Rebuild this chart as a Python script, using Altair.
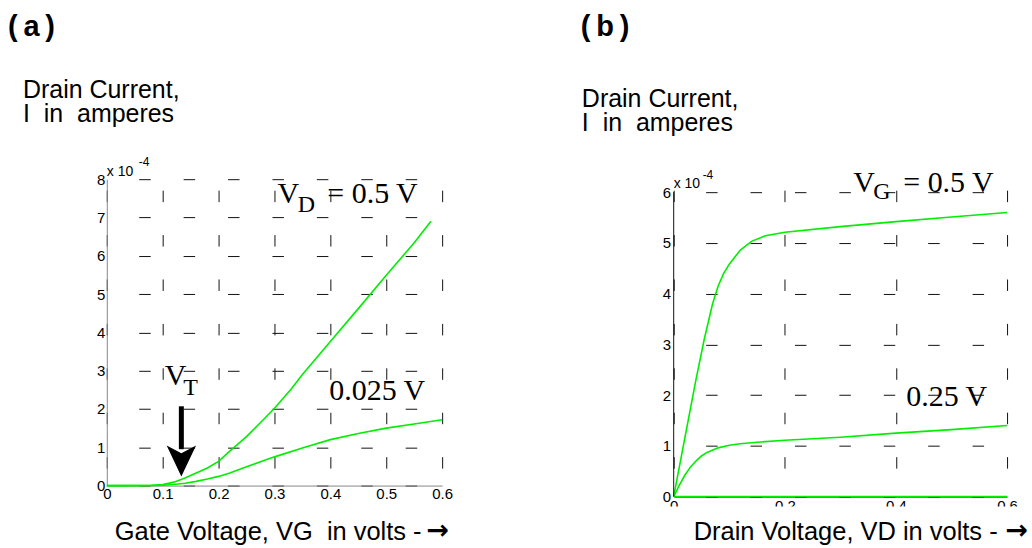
import altair as alt
import pandas as pd

# ---------------- data (drain current in units of 1e-4 A) ----------------
# Panel (a): current vs gate voltage
VG_HI = [0, 0.02, 0.04, 0.06, 0.08, 0.10, 0.12, 0.14, 0.16, 0.18, 0.20, 0.22,
         0.25, 0.28, 0.30, 0.33, 0.35, 0.40, 0.45, 0.50, 0.55, 0.58]
I_HI = [0, 0, 0, 0.002, 0.008, 0.026, 0.09, 0.20, 0.33, 0.46, 0.63, 0.90,
        1.28, 1.72, 2.02, 2.52, 2.90, 3.76, 4.62, 5.49, 6.34, 6.90]
VG_LO = [0, 0.02, 0.04, 0.06, 0.08, 0.10, 0.12, 0.14, 0.16, 0.18, 0.20, 0.22,
         0.25, 0.28, 0.30, 0.35, 0.40, 0.45, 0.50, 0.55, 0.60]
I_LO = [0, 0, 0, 0, 0.003, 0.01, 0.03, 0.06, 0.11, 0.17, 0.24, 0.33,
        0.49, 0.65, 0.75, 0.98, 1.20, 1.36, 1.50, 1.61, 1.72]

# Panel (b): current vs drain voltage
VD_HI = [0, 0.02, 0.04, 0.055, 0.07, 0.08, 0.09, 0.10, 0.12, 0.14, 0.165,
         0.20, 0.30, 0.40, 0.50, 0.60]
I_VHI = [0, 1.15, 2.30, 3.10, 3.80, 4.15, 4.40, 4.58, 4.86, 5.03, 5.14,
         5.21, 5.32, 5.42, 5.51, 5.60]
VD_LO = [0, 0.01, 0.02, 0.03, 0.04, 0.05, 0.06, 0.08, 0.10, 0.12, 0.15,
         0.20, 0.30, 0.40, 0.50, 0.60]
I_VLO = [0, 0.22, 0.42, 0.58, 0.70, 0.80, 0.87, 0.96, 1.01, 1.04, 1.07,
         1.11, 1.17, 1.25, 1.32, 1.40]
VD_ZERO = [0, 0.6]
I_VZERO = [0, 0]

XA_TICKS = [0, 0.1, 0.2, 0.3, 0.4, 0.5, 0.6]
YA_TICKS = [0, 1, 2, 3, 4, 5, 6, 7, 8]
XB_TICKS = [0, 0.2, 0.4, 0.6]
YB_TICKS = [0, 1, 2, 3, 4, 5, 6]

# annotations (text, x, y in data units)
ANN_A_MAIN = ["V", "= 0.5 V", "0.025 V", "V"]
ANN_A_MAIN_X = [0.3054, 0.3946, 0.398, 0.1036]
ANN_A_MAIN_Y = [7.375, 7.375, 2.241, 2.632]
ANN_A_SUB = ["D", "T"]
ANN_A_SUB_X = [0.3416, 0.137]
ANN_A_SUB_Y = [7.148, 2.371]
ARROW_X = [0.1334]
ARROW_TOP = [2.07]
ARROW_END = [0.95]
ARROW_HEAD_Y = [0.644]

ANN_B_MAIN = ["V", "= 0.5 V", "0.25 V"]
ANN_B_MAIN_X = [0.3234, 0.4132, 0.4186]
ANN_B_MAIN_Y = [6.006, 6.006, 1.776]
ANN_B_SUB = ["G"]
ANN_B_SUB_X = [0.3593]
ANN_B_SUB_Y = [5.856]

# ---------------- styling ----------------
SANS = "Liberation Sans"
SERIF = "Liberation Serif"
GREEN = "#00ee00"
GRID = "#111111"
TICK_FS = 15
W_A, H_A = 336, 307
W_B, H_B = 334, 318
YB_MAX = 6 * 318 / 305
DASH = [11.5, 33]
NB = "\u00a0"


def lines_df(xs_list, ys_list):
    rows = []
    for k, (xs, ys) in enumerate(zip(xs_list, ys_list)):
        for xv, yv in zip(xs, ys):
            rows.append({"x": xv, "y": yv, "s": k})
    return pd.DataFrame(rows)


def text_df(texts, xs, ys):
    return pd.DataFrame({"t": texts, "x": xs, "y": ys})


one = pd.DataFrame({"k": [0]})


def label(text, x, y, size, bold=False, font=SANS, align="left"):
    return alt.Chart(one).mark_text(
        text=text, align=align, baseline="alphabetic", font=font,
        fontSize=size, fontWeight="bold" if bold else "normal", color="black"
    ).encode(x=alt.value(x), y=alt.value(y))


def make_axis(values, dash_offset, domain_color=None, fmt=None, expr=None, pad=1):
    kw = dict(values=values, title=None, ticks=False, grid=True,
              gridDash=DASH, gridDashOffset=dash_offset, gridColor=GRID,
              gridWidth=1, labelFont=SANS, labelFontSize=TICK_FS, labelColor="black",
              labelPadding=pad, labelFlush=False, labelOverlap=False)
    if domain_color is None:
        kw["domain"] = False
    else:
        kw["domainColor"] = domain_color
        kw["domainWidth"] = 1
    if fmt is not None:
        kw["format"] = fmt
    if expr is not None:
        kw["labelExpr"] = expr
    return alt.Axis(**kw)


XEXPR = "datum.value === 0 ? '0' : format(datum.value, '.1f')"

# ---------------- panel (a) ----------------
xa = alt.X("x:Q", scale=alt.Scale(domain=[0, 0.6], nice=False, zero=False),
           axis=make_axis(XA_TICKS, 33.5, "#888888", expr=XEXPR, pad=1))
ya = alt.Y("y:Q", scale=alt.Scale(domain=[0, 8], nice=False, zero=False),
           axis=make_axis(YA_TICKS, 12.5, "#888888", fmt="d", pad=2))

curves_a = alt.Chart(lines_df([VG_HI, VG_LO], [I_HI, I_LO])).mark_line(
    color=GREEN, strokeWidth=1.6).encode(x=xa, y=ya, detail="s:N")

ann_a_main = alt.Chart(text_df(ANN_A_MAIN, ANN_A_MAIN_X, ANN_A_MAIN_Y)).mark_text(
    align="left", baseline="alphabetic", font=SERIF, fontSize=30, color="black"
).encode(x=xa, y=ya, text="t:N")
ann_a_sub = alt.Chart(text_df(ANN_A_SUB, ANN_A_SUB_X, ANN_A_SUB_Y)).mark_text(
    align="left", baseline="alphabetic", font=SERIF, fontSize=24, color="black"
).encode(x=xa, y=ya, text="t:N")

shaft_df = pd.DataFrame({"x": ARROW_X, "y": ARROW_TOP, "y2": ARROW_END})
head_df = pd.DataFrame({"x": ARROW_X, "y": ARROW_HEAD_Y})
arrow_shaft = alt.Chart(shaft_df).mark_rule(color="black", strokeWidth=5).encode(
    x=xa, y=ya, y2="y2:Q")
arrow_head = alt.Chart(head_df).mark_point(
    shape="M0,1L-0.95,-1L0,-0.5L0.95,-1Z", size=961, filled=True, color="black",
    opacity=1).encode(x=xa, y=ya)

anchor = alt.Chart(one).mark_rule(opacity=0, strokeWidth=0.001).encode(
    x=alt.value(-107), x2=alt.value(-106), y=alt.value(-179))

panel_a = alt.layer(
    anchor,
    curves_a, ann_a_main, ann_a_sub, arrow_shaft, arrow_head,
    label("(" + "\u2009" + "a" + "\u2009" + ")", -99, -143, 29, bold=True),
    label("Drain Current,", -84, -81, 25),
    label("I" + NB * 2 + "in" + NB * 2 + "amperes", -84, -57, 25),
    label("x 10", 0, -3, 14),
    label("-4", 32, -13, 12),
    label("Gate Voltage, VG" + NB * 2 + "in volts -", 8, 362, 25.5),
    label("\u2192", 343, 361, 27, bold=True, font="DejaVu Sans", align="right"),
).properties(width=W_A, height=H_A)

# ---------------- panel (b) ----------------
xb = alt.X("x:Q", scale=alt.Scale(domain=[0, 0.6], nice=False, zero=False),
           axis=make_axis(XB_TICKS, 33.5, "#111111", expr=XEXPR, pad=2))
yb = alt.Y("y:Q", scale=alt.Scale(domain=[0, YB_MAX], nice=False, zero=False),
           axis=make_axis(YB_TICKS, 12.5, None, fmt="d", pad=3))

yaxis_b = alt.Chart(pd.DataFrame({"x": [0], "y": [0], "y2": [6]})).mark_rule(
    color="#111111", strokeWidth=1).encode(x=xb, y=yb, y2="y2:Q")

curves_b = alt.Chart(lines_df([VD_HI, VD_LO, VD_ZERO], [I_VHI, I_VLO, I_VZERO])).mark_line(
    color=GREEN, strokeWidth=1.6).encode(x=xb, y=yb, detail="s:N")

ann_b_main = alt.Chart(text_df(ANN_B_MAIN, ANN_B_MAIN_X, ANN_B_MAIN_Y)).mark_text(
    align="left", baseline="alphabetic", font=SERIF, fontSize=30, color="black"
).encode(x=xb, y=yb, text="t:N")
ann_b_sub = alt.Chart(text_df(ANN_B_SUB, ANN_B_SUB_X, ANN_B_SUB_Y)).mark_text(
    align="left", baseline="alphabetic", font=SERIF, fontSize=24, color="black"
).encode(x=xb, y=yb, text="t:N")

mask_b = alt.Chart(one).mark_rect(color="white").encode(
    x=alt.value(-20), x2=alt.value(W_B + 25), y=alt.value(H_B + 10), y2=alt.value(H_B + 22))

panel_b = alt.layer(
    curves_b, yaxis_b, ann_b_main, ann_b_sub, mask_b,
    label("(" + "\u2009" + "b" + "\u2009" + ")", -93, -143, 29, bold=True),
    label("Drain Current,", -92, -72, 25),
    label("I" + NB * 2 + "in" + NB * 2 + "amperes", -92, -48, 25),
    label("x 10", 0, 9, 14),
    label("-4", 29, 0, 12),
    label("Drain Voltage, VD in volts -", 20, 362, 25.5),
    label("\u2192", 355, 361, 27, bold=True, font="DejaVu Sans", align="right"),
).properties(width=W_B, height=H_B)

chart = alt.hconcat(panel_a, panel_b, spacing=232, bounds="flush").properties(
    padding=0, background="white"
).configure_view(strokeWidth=0).configure_axis(
    labelFont=SANS, labelFontSize=TICK_FS, labelOverlap=False, labelFlush=False,
    ticks=False, labelColor="black"
)

chart.save("out.html", embed_options={"renderer": "svg", "actions": False})
